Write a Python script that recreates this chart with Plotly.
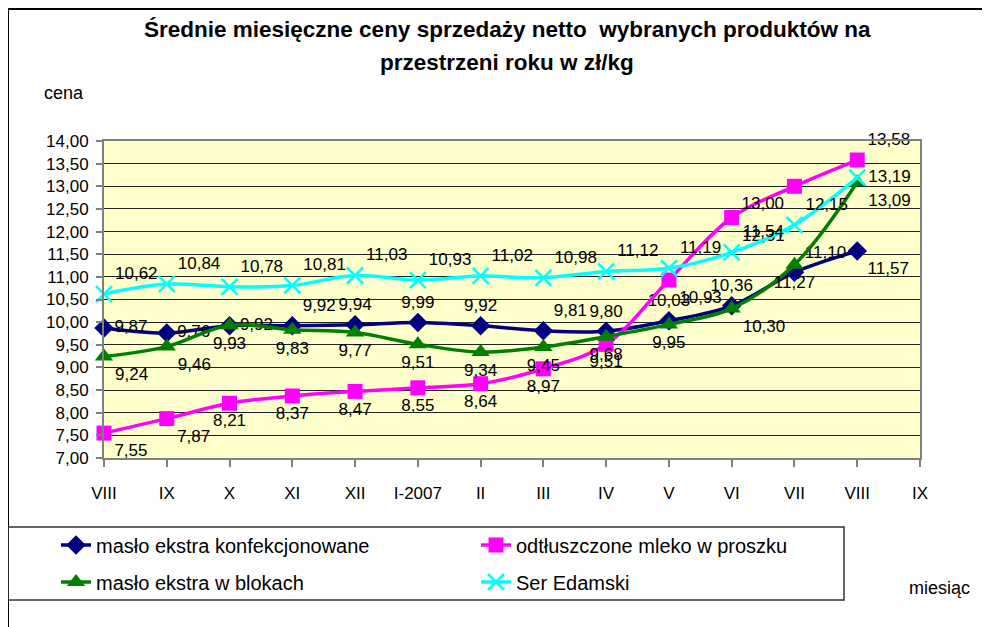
import plotly.graph_objects as go

# --- data ---
months = ["VIII", "IX", "X", "XI", "XII", "I-2007", "II", "III", "IV", "V", "VI", "VII", "VIII", "IX"]

maslo_konf = [9.87, 9.76, 9.92, 9.92, 9.94, 9.99, 9.92, 9.81, 9.80, 10.03, 10.36, 11.10, 11.57]
mleko_proszek = [7.55, 7.87, 8.21, 8.37, 8.47, 8.55, 8.64, 8.97, 9.51, 10.93, 12.31, 13.00, 13.58]
maslo_bloki = [9.24, 9.46, 9.93, 9.83, 9.77, 9.51, 9.34, 9.45, 9.68, 9.95, 10.30, 11.27, 13.09]
ser_edamski = [10.62, 10.84, 10.78, 10.81, 11.03, 10.93, 11.02, 10.98, 11.12, 11.19, 11.54, 12.15, 13.19]

# --- geometry, in screen pixels; page body has an 8px margin ---
W, H = 990, 627
OFF = 8
L, R, T, B = 104 - OFF, 920 - OFF, 141 - OFF, 458 - OFF


def px_x(p):
    return (p - OFF - L) / (R - L)


def px_y(p):
    return (B - (p - OFF)) / (B - T)


FONT = "Liberation Sans, Arial, sans-serif"

# label placement per point (mimics the hand-placed labels of the original)
pos_konf = ["middle right", "middle right", "middle right", "top right", "top center", "top center",
            "top center", "top right", "top center", "top center", "top center", "top right", "bottom right"]
pos_mleko = ["bottom right", "bottom right", "bottom center", "bottom center", "bottom center", "bottom center",
             "bottom center", "bottom center", "bottom center", "bottom right", "bottom right", "bottom left",
             "top right"]
pos_bloki = ["bottom right", "bottom right", "bottom center", "bottom center", "bottom center", "bottom center",
             "bottom center", "bottom center", "bottom center", "bottom center", "bottom right", "bottom center",
             "bottom right"]
pos_ser = ["top right"] * 12 + ["middle right"]

series = [
    ("masło ekstra konfekcjonowane", maslo_konf, "#000080", dict(symbol="diamond", size=15), pos_konf, "legend"),
    ("odtłuszczone mleko w proszku", mleko_proszek, "#FF00FF", dict(symbol="square", size=15), pos_mleko, "legend"),
    ("masło ekstra w blokach", maslo_bloki, "#008000", dict(symbol="triangle-up", size=16), pos_bloki, "legend2"),
    ("Ser Edamski", ser_edamski, "#00FFFF",
     dict(symbol="x-thin", size=16, line=dict(width=2.5, color="#00FFFF")), pos_ser, "legend2"),
]

fig = go.Figure()
for name, vals, color, marker, pos, leg in series:
    fig.add_trace(go.Scatter(
        x=list(range(len(vals))),
        y=vals,
        name=name,
        mode="lines+markers+text",
        line=dict(color=color, width=3.5, shape="spline", smoothing=1),
        marker=dict(color=color, **marker),
        texttemplate="%{y:.2f}",
        textposition=pos,
        textfont=dict(family=FONT, size=17, color="black"),
        cliponaxis=False,
        legend=leg,
    ))

fig.update_layout(
    width=W, height=H,
    margin=dict(l=L, r=W - R, t=T, b=H - B, autoexpand=False),
    paper_bgcolor="white",
    plot_bgcolor="#FFFFCC",
    separators=", ",
    font=dict(family=FONT, size=17, color="black"),
    legend=dict(orientation="h", x=px_x(56), xanchor="left", y=px_y(545), yanchor="middle",
                entrywidth=375, font=dict(size=20), bgcolor="rgba(0,0,0,0)"),
    legend2=dict(orientation="h", x=px_x(56), xanchor="left", y=px_y(582), yanchor="middle",
                 entrywidth=375, font=dict(size=20), bgcolor="rgba(0,0,0,0)"),
)

fig.update_xaxes(
    range=[0, len(months) - 1],
    tickvals=list(range(len(months))),
    ticktext=months,
    showgrid=False, zeroline=False,
    showline=True, linecolor="#808080", linewidth=2, mirror=True,
    ticks="outside", ticklen=7, tickcolor="#808080", tickwidth=1.5,
    ticklabelstandoff=12,
    tickfont=dict(size=17),
)
fig.update_yaxes(
    range=[7, 14], dtick=0.5, tickformat=".2f",
    showgrid=True, gridcolor="#222222", gridwidth=1, zeroline=False,
    showline=True, linecolor="#808080", linewidth=2, mirror=True,
    ticks="outside", ticklen=6, tickcolor="#808080", tickwidth=1.5,
    ticklabelstandoff=4,
    tickfont=dict(size=17),
)

# outer chart frame and legend box
fig.add_shape(type="rect", xref="paper", yref="paper",
              x0=px_x(8), x1=px_x(1200), y0=px_y(800), y1=px_y(9),
              line=dict(color="black", width=2), layer="below")
fig.add_shape(type="rect", xref="paper", yref="paper",
              x0=px_x(8), x1=px_x(844), y0=px_y(600), y1=px_y(527),
              line=dict(color="#333333", width=1.5), layer="below")

# titles
fig.add_annotation(text="<b>Średnie miesięczne ceny sprzedaży netto  wybranych produktów na</b>",
                   xref="paper", yref="paper", x=px_x(507), y=px_y(30),
                   showarrow=False, font=dict(size=22.5), xanchor="center", yanchor="middle")
fig.add_annotation(text="<b>przestrzeni roku w zł/kg</b>",
                   xref="paper", yref="paper", x=px_x(507), y=px_y(62),
                   showarrow=False, font=dict(size=22.5), xanchor="center", yanchor="middle")
fig.add_annotation(text="cena", xref="paper", yref="paper", x=px_x(64), y=px_y(93),
                   showarrow=False, font=dict(size=18), xanchor="center", yanchor="middle")
fig.add_annotation(text="miesiąc", xref="paper", yref="paper", x=px_x(940), y=px_y(588),
                   showarrow=False, font=dict(size=18), xanchor="center", yanchor="middle")

fig.write_html("out.html")
